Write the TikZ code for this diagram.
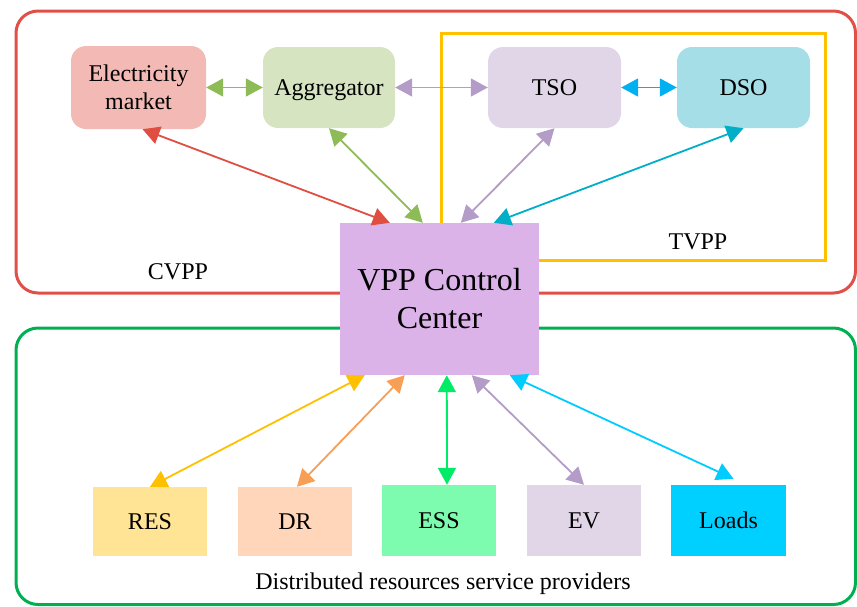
\documentclass[tikz,border=0pt]{standalone}
\usepackage{fontspec}
\setmainfont{Liberation Serif}
\usetikzlibrary{arrows.meta}
\definecolor{cvppred}{RGB}{224,80,72}
\definecolor{tvppyel}{RGB}{255,192,0}
\definecolor{dspgreen}{RGB}{0,176,80}
\definecolor{emfill}{RGB}{243,185,181}
\definecolor{aggfill}{RGB}{214,228,194}
\definecolor{tsofill}{RGB}{225,214,231}
\definecolor{dsofill}{RGB}{166,222,232}
\definecolor{vppfill}{RGB}{220,179,232}
\definecolor{resfill}{RGB}{255,228,150}
\definecolor{drfill}{RGB}{255,214,185}
\definecolor{essfill}{RGB}{125,252,176}
\definecolor{evfill}{RGB}{225,214,231}
\definecolor{loadfill}{RGB}{0,208,255}
\definecolor{agreen}{RGB}{141,187,86}
\definecolor{apurple}{RGB}{180,156,200}
\definecolor{acyan}{RGB}{0,176,240}
\definecolor{ateal}{RGB}{0,174,200}
\definecolor{ared}{RGB}{224,78,66}
\definecolor{ayellow}{RGB}{255,192,0}
\definecolor{aorange}{RGB}{247,158,87}
\definecolor{abgreen}{RGB}{0,236,102}
\definecolor{alcyan}{RGB}{0,204,255}
\tikzset{
  region/.style={line width=3pt, rounded corners=22pt},
  topbox/.style={rounded corners=15pt, inner sep=0pt, align=center,
    font=\fontsize{24}{28}\selectfont, text=black},
  botbox/.style={inner sep=0pt, align=center,
    font=\fontsize{24}{28}\selectfont, text=black},
  lbl/.style={font=\fontsize{24}{28}\selectfont, inner sep=0pt},
  tiphead/.tip={Triangle[length=17pt,width=18pt]},
  conn/.style={line width=1.8pt, tiphead-tiphead}
}
\begin{document}
\begin{tikzpicture}[x=1pt,y=-1pt]
\useasboundingbox (0,0) rectangle (857,606);
% regions
\draw[region, draw=cvppred] (16,11) rectangle (855.5,293);
\draw[region, draw=dspgreen] (16,328) rectangle (855.5,604.5);
\draw[line width=3pt, draw=tvppyel] (441,33) rectangle (825,260);
\node[lbl] (cvpp) at (178,272) {CVPP};
\node[lbl] (tvpp) at (698,242) {TVPP};
\node[lbl] (dsp) at (443,584) {Distributed resources service providers};
% nodes
\node[topbox, fill=emfill, minimum width=135pt, minimum height=83pt] (em) at (138.5,87.5) {Electricity\\market};
\node[topbox, fill=aggfill, minimum width=132pt, minimum height=81pt, text depth=0pt] (agg) at (329,87.5) {Aggregator};
\node[topbox, fill=tsofill, minimum width=133pt, minimum height=81pt] (tso) at (554.5,87.5) {TSO};
\node[topbox, fill=dsofill, minimum width=133pt, minimum height=81pt] (dso) at (743.5,87.5) {DSO};
\node[botbox, fill=vppfill, minimum width=199pt, minimum height=152pt, font=\fontsize{32}{38}\selectfont] (vpp) at (439.5,299) {VPP Control\\Center};
\node[botbox, fill=resfill, minimum width=114pt, minimum height=69pt] (res) at (150,521.5) {RES};
\node[botbox, fill=drfill, minimum width=114pt, minimum height=69pt] (dr) at (295,521.5) {DR};
\node[botbox, fill=essfill, minimum width=114pt, minimum height=71pt] (ess) at (439,520.5) {ESS};
\node[botbox, fill=evfill, minimum width=114pt, minimum height=71pt] (ev) at (584,520.5) {EV};
\node[botbox, fill=loadfill, minimum width=115pt, minimum height=71pt] (loads) at (728.5,520.5) {Loads};
% connectors
\draw[conn, draw=agreen, fill=agreen] (em.east) -- (agg.west);
\draw[conn, draw=apurple, fill=apurple] (agg.east) -- (tso.west);
\draw[conn, draw=acyan, fill=acyan] (tso.east) -- (dso.west);
\draw[conn, draw=ared, fill=ared] ([xshift=4pt]em.south) -- ([xshift=50pt]vpp.north west);
\draw[conn, draw=agreen, fill=agreen] (agg.south) -- ([xshift=83pt]vpp.north west);
\draw[conn, draw=apurple, fill=apurple] (tso.south) -- ([xshift=121pt]vpp.north west);
\draw[conn, draw=ateal, fill=ateal] (dso.south) -- ([xshift=154pt]vpp.north west);
\draw[conn, draw=ayellow, fill=ayellow] ([xshift=25pt]vpp.south west) -- (res.north);
\draw[conn, draw=aorange, fill=aorange] ([xshift=65pt]vpp.south west) -- ([xshift=2pt]dr.north);
\draw[conn, draw=abgreen, fill=abgreen] ([xshift=107pt]vpp.south west) -- ([xshift=8pt]ess.north);
\draw[conn, draw=apurple, fill=apurple] ([xshift=132pt]vpp.south west) -- (ev.north);
\draw[conn, draw=alcyan, fill=alcyan] ([xshift=170pt]vpp.south west) -- ([xshift=5pt,yshift=6pt]loads.north);
\end{tikzpicture}
\end{document}
